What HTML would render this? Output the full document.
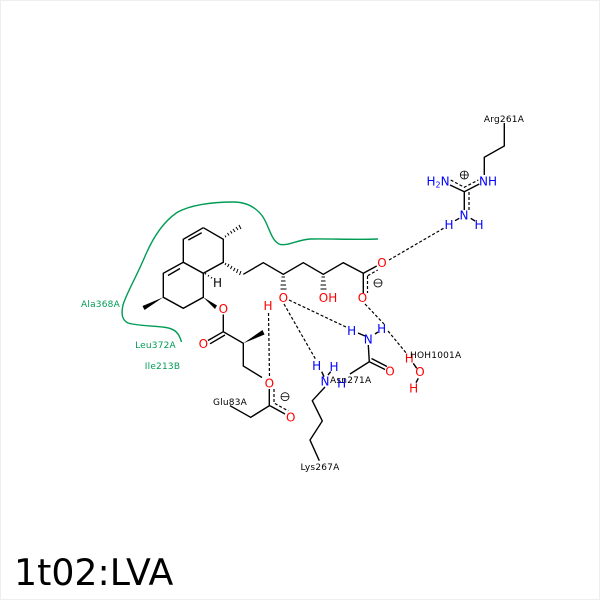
<!DOCTYPE html>
<html><head><meta charset="utf-8"><style>
html,body{margin:0;padding:0;background:#fff}
svg{display:block}
text{font-family:"DejaVu Sans",sans-serif}
.l{font-size:9px;text-anchor:middle;fill:#000;letter-spacing:.2px}
.g{font-size:9px;text-anchor:middle;fill:#009c55;letter-spacing:.2px}
.a{font-size:12px;text-anchor:middle;dominant-baseline:central}
.r{fill:#f00}.b{fill:#00f}
</style></head><body>
<svg width="600" height="600" viewBox="0 0 600 600" xmlns="http://www.w3.org/2000/svg">
<rect x="0.5" y="0.5" width="599" height="599" fill="#fff" stroke="#eeeeee"/>
<path d="M181.5 342C179 333 175 329 166 327.500C152 325.500 138 326 128 323C122 320 121 314 123 305C127 292 135 280 146 254C153 238 163 222 177 212.500C190 205 212 202 233 202C246 202 256 207 263 217C269 226 271 240 279 244C286 247 297 240 310 239C330 238.500 355 240 378 239" fill="none" stroke="#009c55" stroke-width="1.400"/>
<g fill="none" stroke="#000" stroke-width="1.400">
<path d="M203.300 227.700L223.300 239.300L223.300 262.300L203.300 273.300L183.300 262.300L183.300 239.300L203.300 227.700M201.700 232.700L188.300 240"/>
<path d="M183.300 262.300L163.300 273.300L163.300 297.300L183.300 308.300L203.300 297.300L203.300 273.300M180 268.500L168 275.500"/>
<path d="M243.300 274.300L263.300 262.700L283.300 274.300L303.300 262.700L323.300 274.300L343.300 262.700L363.300 273.300"/>
<path d="M363.300 273.300L376.700 266M363.300 273.300V293"/>
<path d="M223.300 314.500V331.700L243.300 343.300V366L262 377.500M223.300 331.700L208 340.500M225 335L210 343.800"/>
<path d="M269.300 389V405.700L250.700 417.300L230 405.700M270 405.700L285 414"/>
<path d="M325 387L312.300 400.700L322.300 421L310 440L319.300 460.700"/>
<path d="M368.300 345L369.300 361.700L350 374M369.300 361.700L385 369.500M371.500 358.500L387 366.500"/>
<path d="M504.300 123V146L484.300 157.300V175"/>
<path d="M450 185L464.300 191.700L479.300 184M464.300 191.700V210"/>
<path d="M455 220.700L459.300 218.300M470.700 218.300L475 221M358 333L365 336M375 334L378 332M321.700 371.700L324 376.700M330.700 371.700L328 375M413.300 363.300L416.700 368.300M418.300 378.300L416 382.700"/>
</g>
<g fill="none" stroke="#000" stroke-width="1.200" stroke-dasharray="3 2">
<path d="M389 260L444 228"/>
<path d="M289 300L347 327.500"/>
<path d="M284 304L316 360"/>
<path d="M268.500 313L269.500 378"/>
<path d="M365 304L384 324"/>
<path d="M388 331L407 354"/>
<path d="M367.500 276V293M367.700 275.700L377.700 270"/>
<path d="M274 389V403L288.300 411"/>
<path d="M450.700 180L464.300 187.300L478.300 180M469 192V211"/>
</g>
<g fill="none" stroke="#000" stroke-width="1">
<path d="M226 237.300L225 235.500M229 235.500L227.500 233M232 233.500L230.500 231M235 232L233 229M238 230L236 227M241 229L239 225"/>
<path d="M226 263L225 265M229 264L227.500 267M232 266L230.500 269M235 268L233.500 271M238 269L236.500 273M241 271L239.500 275"/>
<path d="M205 274.500L206 273M208 276.500L209 275M211 278.500L212 277"/>
<path d="M281.500 277H285M281 281H285.500M280.500 285H286M280.500 289H286.500"/>
<path d="M321.500 277H325M321 281H325.500M320.500 285H326M320.500 289H326.500"/>
</g>
<g fill="#000">
<path d="M163.300 297.300L142.500 306L144.500 310Z"/>
<path d="M203.300 297.300L217 305.500L215 309Z"/>
<path d="M243.300 343.300L262.500 330L264.500 334.500Z"/>
</g>
<g>
<text class="a r" x="223.300" y="309">O</text>
<text class="a r" x="203.300" y="344">O</text>
<text class="a r" x="382" y="263">O</text>
<text class="a r" x="362.500" y="298">O</text>
<text class="a r" x="328" y="298">OH</text>
<text class="a r" x="283.300" y="298">O</text>
<text class="a r" x="268" y="306">H</text>
<text class="a r" x="269.300" y="383.300">O</text>
<text class="a r" x="290.700" y="417.300">O</text>
<text class="a r" x="390" y="371.700">O</text>
<text class="a r" x="420" y="372">O</text>
<text class="a r" x="409.300" y="358.300">H</text>
<text class="a r" x="413.700" y="388.300">H</text>
<text class="a" x="217.500" y="283">H</text>
<text class="a b" x="325" y="381.700">N</text>
<text class="a b" x="316.700" y="366">H</text>
<text class="a b" x="334" y="367">H</text>
<text class="a b" x="341.700" y="383.300">H</text>
<text class="a b" x="368.300" y="339.300">N</text>
<text class="a b" x="351.700" y="331">H</text>
<text class="a b" x="381.700" y="329">H</text>
<text class="a b" x="488" y="181.500">NH</text>
<text class="a b" x="438" y="181.500">H<tspan font-size="8" dy="3">2</tspan><tspan dy="-3">N</tspan></text>
<text class="a b" x="464" y="215.700">N</text>
<text class="a b" x="449" y="225">H</text>
<text class="a b" x="479" y="225">H</text>
</g>
<g fill="none" stroke="#000" stroke-width="0.800">
<circle cx="464.300" cy="175" r="4"/><path d="M460.300 175H468.300M464.300 171V179"/>
<circle cx="378" cy="283" r="4"/><path d="M374 283H382"/>
<circle cx="285" cy="396.700" r="4"/><path d="M281 396.700H289"/>
</g>
<text class="l" x="504" y="122">Arg261A</text>
<text class="l" x="230" y="405">Glu83A</text>
<text class="l" x="320" y="470">Lys267A</text>
<text class="l" x="350.700" y="383">Asn271A</text>
<text class="l" x="435.700" y="358">HOH1001A</text>
<text class="g" x="100.500" y="307">Ala368A</text>
<text class="g" x="155.500" y="348">Leu372A</text>
<text class="g" x="162.500" y="369">Ile213B</text>
<text x="14" y="585" font-size="36.300" fill="#000" style="font-family:'DejaVu Sans',sans-serif">1t02:LVA</text>
</svg>
</body></html>
